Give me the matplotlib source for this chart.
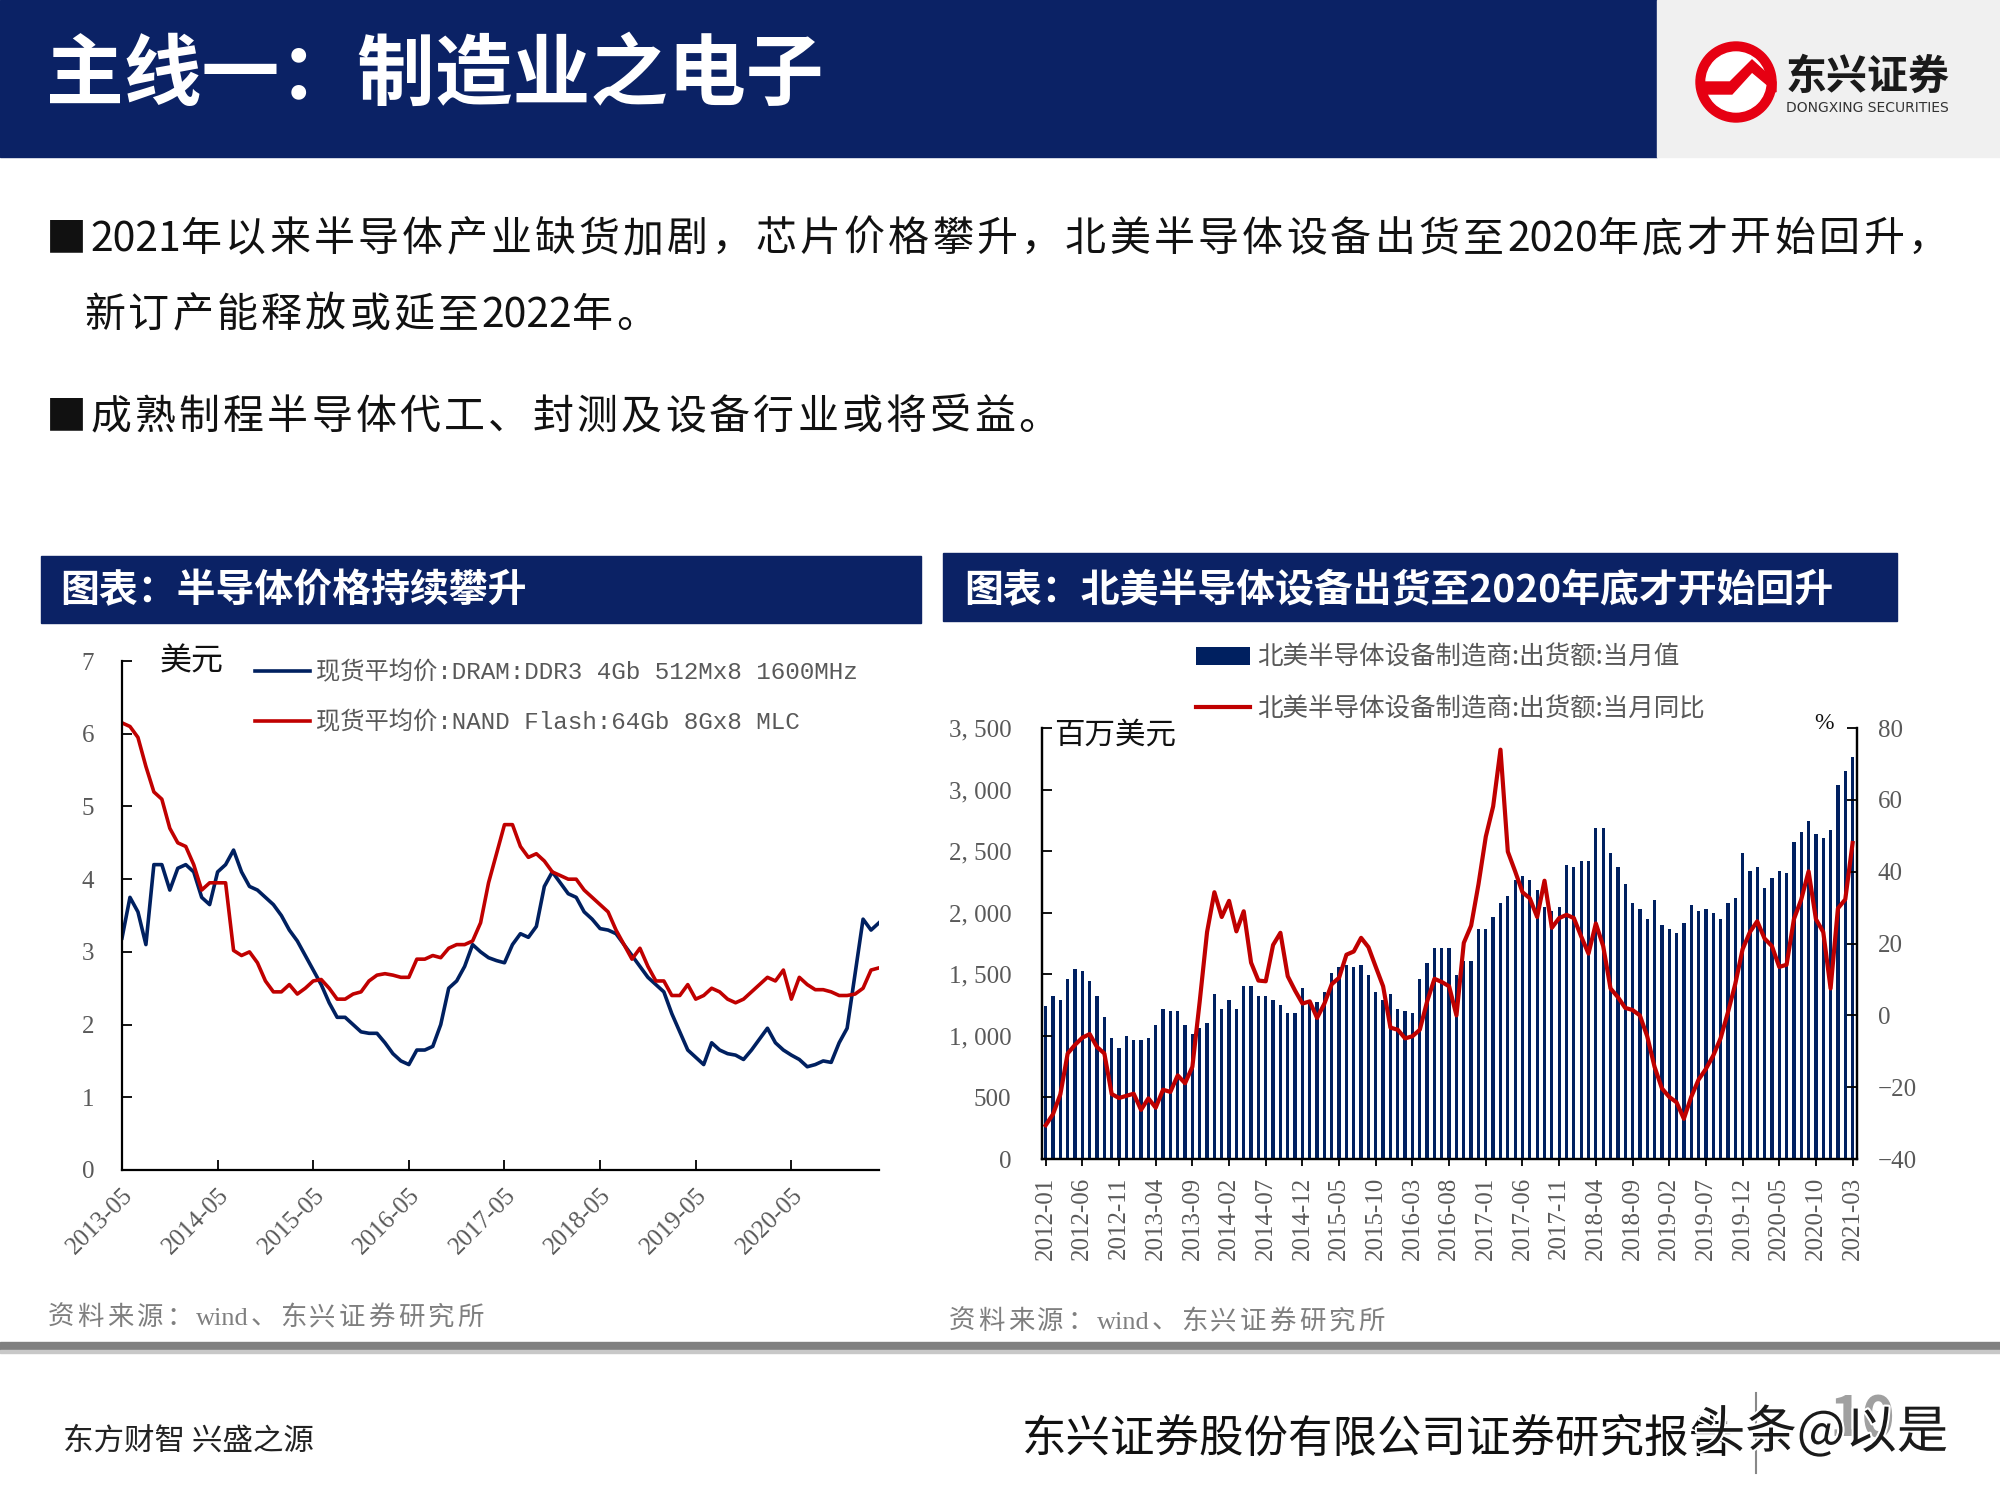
import matplotlib
matplotlib.use("Agg")
import matplotlib.pyplot as plt
import matplotlib.patheffects as pe
from matplotlib.patches import Rectangle, Circle, Polygon
from matplotlib.font_manager import FontProperties
import numpy as np

plt.rcParams['font.family'] = ['Noto Sans CJK SC', 'DejaVu Sans']

NAVY = '#0B2265'
RED = '#C00000'
GRAY = '#595959'

# left chart: spot prices, monthly from 2013-05 to 2021-04
price_ticks = ['2013-05', '2014-05', '2015-05', '2016-05', '2017-05',
               '2018-05', '2019-05', '2020-05']
dram = [3.19, 3.75, 3.55, 3.10, 4.20, 4.20, 3.85, 4.15, 4.20, 4.10, 3.75, 3.65,
        4.10, 4.20, 4.40, 4.10, 3.90, 3.85, 3.75, 3.65, 3.50, 3.30, 3.15, 2.95,
        2.75, 2.55, 2.30, 2.10, 2.10, 2.00, 1.90, 1.88, 1.88, 1.75, 1.60, 1.50,
        1.45, 1.65, 1.65, 1.70, 2.00, 2.50, 2.60, 2.80, 3.10, 3.00, 2.92, 2.88,
        2.85, 3.10, 3.25, 3.20, 3.35, 3.90, 4.10, 3.95, 3.80, 3.75, 3.55, 3.45,
        3.32, 3.30, 3.25, 3.10, 2.95, 2.80, 2.65, 2.55, 2.45, 2.15, 1.90, 1.65,
        1.55, 1.45, 1.75, 1.65, 1.60, 1.58, 1.52, 1.65, 1.80, 1.95, 1.75, 1.65,
        1.58, 1.52, 1.42, 1.45, 1.50, 1.48, 1.75, 1.95, 2.70, 3.45, 3.30, 3.40]
nand = [6.15, 6.10, 5.95, 5.55, 5.20, 5.10, 4.70, 4.50, 4.45, 4.20, 3.85, 3.95,
        3.95, 3.95, 3.02, 2.95, 3.00, 2.85, 2.60, 2.45, 2.45, 2.55, 2.42, 2.50,
        2.60, 2.62, 2.50, 2.35, 2.35, 2.42, 2.45, 2.60, 2.68, 2.70, 2.68, 2.65,
        2.65, 2.90, 2.90, 2.95, 2.92, 3.05, 3.10, 3.10, 3.15, 3.40, 3.95, 4.35,
        4.75, 4.75, 4.45, 4.30, 4.35, 4.25, 4.10, 4.05, 4.00, 4.00, 3.85, 3.75,
        3.65, 3.55, 3.30, 3.10, 2.90, 3.05, 2.80, 2.60, 2.60, 2.40, 2.40, 2.55,
        2.35, 2.40, 2.50, 2.45, 2.35, 2.30, 2.35, 2.45, 2.55, 2.65, 2.60, 2.75,
        2.35, 2.65, 2.55, 2.48, 2.48, 2.45, 2.40, 2.40, 2.42, 2.50, 2.75, 2.78]

# right chart: NA equipment billings, monthly 2012-01 .. 2021-03
ship_ticks = ['2012-01', '2012-06', '2012-11', '2013-04', '2013-09', '2014-02',
              '2014-07', '2014-12', '2015-05', '2015-10', '2016-03', '2016-08',
              '2017-01', '2017-06', '2017-11', '2018-04', '2018-09', '2019-02',
              '2019-07', '2019-12', '2020-05', '2020-10', '2021-03']
ship = [1240, 1322, 1290, 1459, 1544, 1526, 1442, 1322, 1156, 980, 899, 998,
        969, 969, 980, 1086, 1220, 1202, 1202, 1086, 1015, 1068, 1103, 1343,
        1220, 1290, 1220, 1406, 1406, 1322, 1322, 1290, 1255, 1188, 1188, 1389,
        1272, 1272, 1357, 1509, 1562, 1579, 1562, 1579, 1491, 1360, 1290, 1343,
        1220, 1202, 1188, 1459, 1593, 1713, 1713, 1713, 1491, 1611, 1611, 1865,
        1865, 1967, 2083, 2136, 2266, 2302, 2266, 2182, 2048, 2016, 2048, 2386,
        2369, 2421, 2421, 2690, 2690, 2489, 2369, 2235, 2083, 2034, 1949, 2101,
        1900, 1865, 1833, 1914, 2066, 2016, 2034, 1999, 1949, 2083, 2118, 2489,
        2337, 2369, 2199, 2284, 2337, 2320, 2573, 2658, 2742, 2640, 2605, 2675,
        3035, 3155, 3268]
yoy = [-30.6, -27.5, -22, -10.6, -8.2, -6.2, -5.2, -8.8, -10.6, -21.9, -23, -22.4,
       -21.8, -26.3, -23.1, -25.7, -20.7, -21.3, -16.7, -18.9, -14.3, 3.9, 23.2, 34.3,
       27.4, 31.9, 23.4, 29, 14.7, 9.7, 9.5, 19.6, 23, 10.9, 6.9, 3.3,
       3.9, -0.7, 3.3, 8.7, 10.5, 16.9, 17.8, 21.6, 19, 13.5, 8.1, -3.4,
       -4, -6.4, -5.8, -4, 3.9, 10.2, 9.3, 8.1, 0, 20.2, 25, 36.5,
       49.8, 58.2, 74, 45.6, 40.1, 34.3, 32.6, 27.4, 37.5, 24.4, 27.1, 28,
       27.1, 22, 17.2, 25.6, 19.3, 7.5, 5.1, 2.1, 1.5, 0, -5.8, -14.3,
       -20.3, -22.7, -24.2, -28.8, -22.7, -17.9, -14.9, -11.2, -6.4, 0.8, 8.7, 18.4,
       23.2, 26.2, 21.4, 19.3, 13.5, 14.1, 26.8, 32.3, 40.1, 26.8, 23.2, 7.5,
       29.8, 32.3, 48]

fig = plt.figure(figsize=(20, 15), dpi=100)
renderer = fig.canvas.get_renderer()

# page background layer in pixel coords
bg = fig.add_axes([0, 0, 1, 1], zorder=0)
bg.set_xlim(0, 2000)
bg.set_ylim(1500, 0)
bg.axis('off')


def spaced(x, y, s, size, pitch, color='#111111', ascii_family=None, after=0.0):
    # slide text has wide letter spacing, so place glyphs one by one
    run = ''
    for ch in s + '\0':
        if ch != '\0' and ord(ch) < 128:
            run += ch
            continue
        if run:
            kw = {'family': ascii_family} if ascii_family else {}
            t = bg.text(x, y, run, fontsize=size, va='baseline', color=color, **kw)
            x += t.get_window_extent(renderer).width + after
            run = ''
        if ch == '\0':
            break
        bg.text(x, y, ch, fontsize=size, va='baseline', color=color)
        x += pitch


bg.add_patch(Rectangle((0, 0), 1657, 157, color=NAVY))
bg.add_patch(Rectangle((1657, 0), 343, 157, color='#F0F0F0'))
bg.text(46, 76, '主线一：制造业之电子', color='white', fontsize=56,
        fontweight='bold', va='center')

# logo
bg.add_patch(Circle((1736, 82), 40, color='#E60012'))
bg.add_patch(Circle((1736, 82), 30, color='white'))
bg.add_patch(Polygon([[1700, 82], [1730, 82], [1752, 60], [1776, 82], [1776, 92],
                      [1752, 72], [1732, 94], [1700, 94]], color='#E60012'))
bg.text(1786, 77, '东兴证券', fontsize=29.5, fontweight='heavy', va='center',
        color='#1a1a1a')
bg.text(1786, 108, 'DONGXING SECURITIES', fontsize=10, va='center',
        color='#333333', family=['DejaVu Sans'])

spaced(46, 251, '■2021年以来半导体产业缺货加剧，芯片价格攀升，北美半导体设备出货至2020年底才开始回升，', 29.5, 44.2)
spaced(84, 327, '新订产能释放或延至2022年。', 29.5, 44.2)
spaced(46, 429, '■成熟制程半导体代工、封测及设备行业或将受益。', 29.5, 44.2)

bg.add_patch(Rectangle((41, 556), 880, 67, color=NAVY))
bg.add_patch(Rectangle((943, 553), 954, 68, color=NAVY))
bg.text(60, 591, '图表：半导体价格持续攀升', color='white', fontsize=28,
        fontweight='bold', va='center')
bg.text(964, 591, '图表：北美半导体设备出货至2020年底才开始回升', color='white',
        fontsize=28, fontweight='bold', va='center')

spaced(48, 1325, '资料来源：wind、东兴证券研究所', 19, 29.5, color='#7f7f7f',
       ascii_family='Liberation Serif', after=2)
spaced(949, 1329, '资料来源：wind、东兴证券研究所', 19, 29.5, color='#7f7f7f',
       ascii_family='Liberation Serif', after=2)
bg.add_patch(Rectangle((0, 1342), 2000, 8, color='#808080'))
bg.add_patch(Rectangle((0, 1350), 2000, 3, color='#c8c8c8'))

bg.text(63, 1441, '东方财智 兴盛之源', fontsize=22, color='#222222', va='center')
bg.text(1022, 1439, '东兴证券股份有限公司证券研究报告', fontsize=32,
        color='#111111', va='center')
bg.text(1830, 1420, '10', fontsize=40, color='#a0a0a0', va='center',
        fontweight='bold')
bg.plot([1756, 1756], [1393, 1473], color='#888888', lw=1.5)
bg.text(1694, 1433, '头条@以是', fontsize=37, color='#1a1a1a', va='center',
        path_effects=[pe.withStroke(linewidth=3, foreground='white')])

serif = FontProperties(family='Liberation Serif', size=18)
mixed = FontProperties(family=['Liberation Mono', 'Noto Sans CJK SC'], size=17.5)
legfont = FontProperties(family=['Noto Sans CJK SC'], size=18.4)

# ---- left chart ----
ax1 = fig.add_axes([0.061, 0.22, 0.3785, 0.3393], zorder=2)
ax1.patch.set_alpha(0)
x1 = np.arange(len(dram))
ax1.plot(x1, dram, color='#002060', lw=2.6,
         label='现货平均价:DRAM:DDR3 4Gb 512Mx8 1600MHz')
ax1.plot(x1, nand, color=RED, lw=2.6,
         label='现货平均价:NAND Flash:64Gb 8Gx8 MLC')
ax1.set_xlim(0, len(dram) - 1)
ax1.set_ylim(0, 7)
ax1.set_yticks(range(8))
ax1.set_xticks(np.arange(len(price_ticks)) * 12)
ax1.set_xticklabels(price_ticks, rotation=45, ha='right', va='top',
                    rotation_mode='anchor')
for lab in ax1.get_xticklabels() + ax1.get_yticklabels():
    lab.set_fontproperties(serif)
    lab.set_color(GRAY)
ax1.tick_params(axis='y', direction='in', length=7, width=1.3, pad=20)
ax1.tick_params(axis='x', direction='in', length=7, width=1.3, pad=10)
for s in ['top', 'right']:
    ax1.spines[s].set_visible(False)
for s in ['left', 'bottom']:
    ax1.spines[s].set_linewidth(1.6)
ax1.text(0.05, 1.0, '美元', transform=ax1.transAxes, fontsize=23,
         va='center', color='#111111')
ax1.legend(loc='upper left', bbox_to_anchor=(0.1165, 0.574),
           bbox_transform=fig.transFigure, frameon=False, prop=mixed,
           handlelength=2.26, handletextpad=0.26, labelspacing=1.11,
           labelcolor=GRAY)

# ---- right chart ----
ax2 = fig.add_axes([0.521, 0.2273, 0.4075, 0.2873], zorder=2)
ax2.patch.set_alpha(0)
x2 = np.arange(len(ship))
ax2.bar(x2, ship, width=0.45, color='#002060',
        label='北美半导体设备制造商:出货额:当月值')
ax2.set_xlim(-0.5, len(ship) - 0.4)
ax2.set_ylim(0, 3500)
ax2.set_yticks(range(0, 3501, 500))
ax2.set_yticklabels([f'{v:,}'.replace(',', ', ') for v in range(0, 3501, 500)])
ax2.set_xticks(np.arange(len(ship_ticks)) * 5)
ax2.set_xticklabels(ship_ticks, rotation=90, va='top', ha='center')
ax3 = ax2.twinx()
ax3.plot(x2, yoy, color=RED, lw=3,
         label='北美半导体设备制造商:出货额:当月同比')
ax3.set_ylim(-40, 80)
ax3.set_yticks(range(-40, 81, 20))
for lab in ax2.get_xticklabels() + ax2.get_yticklabels() + ax3.get_yticklabels():
    lab.set_fontproperties(serif)
    lab.set_color(GRAY)
ax2.tick_params(axis='y', direction='in', length=7, width=1.3, pad=22)
ax2.tick_params(axis='x', direction='out', length=5, width=1.3, pad=8)
ax3.tick_params(axis='y', direction='in', length=7, width=1.3, pad=15)
for a in (ax2, ax3):
    a.spines['top'].set_visible(False)
    for s in ['left', 'bottom', 'right']:
        a.spines[s].set_linewidth(1.6)
ax2.text(0.015, 0.985, '百万美元', transform=ax2.transAxes, fontsize=22,
         va='center', color='#111111')
ax2.text(0.947, 1.01, '%', transform=ax2.transAxes, fontsize=17,
         va='center', color='#111111', family='Liberation Serif')
h1, l1 = ax2.get_legend_handles_labels()
h2, l2 = ax3.get_legend_handles_labels()
ax3.legend(h1 + h2, l1 + l2, loc='upper left', bbox_to_anchor=(0.5865, 0.5853),
           bbox_transform=fig.transFigure, frameon=False, prop=legfont,
           handlelength=2.1, handletextpad=0.3, labelspacing=0.98,
           labelcolor=GRAY)

fig.savefig('out.png', dpi=100)
